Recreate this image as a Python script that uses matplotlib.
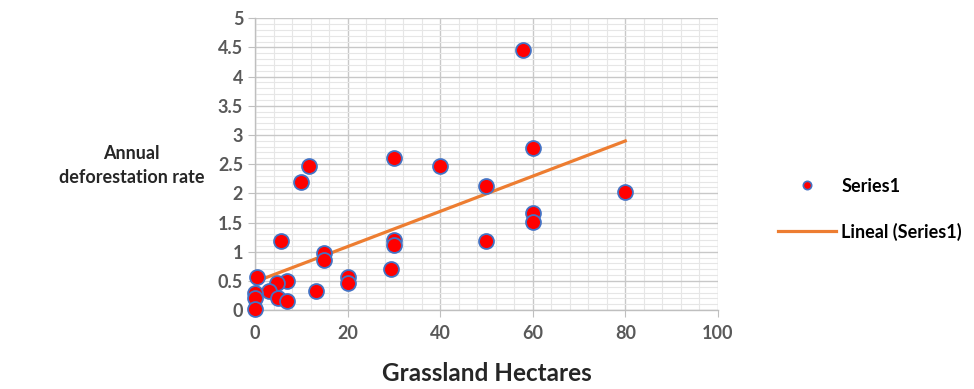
import numpy as np
import matplotlib.pyplot as plt
from matplotlib.ticker import MultipleLocator
from matplotlib.lines import Line2D

# grassland hectares vs annual deforestation rate
hectares = [58, 60, 30, 11.7, 40, 10, 50, 80, 60, 60,
            5.6, 50, 30, 30, 15, 15, 29.4, 20, 20, 0.4,
            7, 4.7, 3, 4.9, 7, 13.2, 0, 0, 0]
rate = [4.45, 2.78, 2.61, 2.47, 2.47, 2.19, 2.13, 2.02, 1.66, 1.51,
        1.19, 1.19, 1.2, 1.11, 0.98, 0.86, 0.70, 0.57, 0.46, 0.57,
        0.5, 0.46, 0.32, 0.21, 0.15, 0.32, 0.3, 0.2, 0.01]

x = np.array(hectares)
y = np.array(rate)

plt.rcParams['font.family'] = ['Lato', 'DejaVu Sans']

fig = plt.figure(figsize=(9.74, 3.89), dpi=100)
ax = fig.add_axes([0.2618, 0.203, 0.4752, 0.750])

# linear trend over the data range
m, b = np.polyfit(x, y, 1)
xt = np.array([x.min(), x.max()])
ax.plot(xt, m * xt + b, color='#ED7D31', linewidth=2.3, zorder=2,
        clip_on=False)

ax.scatter(x, y, s=115, color='#FF0000', edgecolors='#4472C4',
           linewidths=1.3, zorder=3, clip_on=False)

ax.set_xlim(0, 100)
ax.set_ylim(0, 5)
ax.xaxis.set_major_locator(MultipleLocator(20))
ax.xaxis.set_minor_locator(MultipleLocator(4))
ax.yaxis.set_major_locator(MultipleLocator(0.5))
ax.yaxis.set_minor_locator(MultipleLocator(0.1))
ax.yaxis.set_major_formatter(lambda v, p: f'{v:g}')

ax.grid(which='major', color='#C8C8C8', linewidth=1.0)
ax.grid(which='minor', color='#E6E6E6', linewidth=0.8)
ax.set_axisbelow(True)

for side in ['top', 'right']:
    ax.spines[side].set_visible(False)
for side in ['left', 'bottom']:
    ax.spines[side].set_color('#BFBFBF')
    ax.spines[side].set_linewidth(1.0)

ax.tick_params(which='major', length=5, color='#BFBFBF', labelsize=13,
               labelcolor='#595959')
ax.tick_params(axis='x', pad=6)
ax.tick_params(which='minor', length=0)
for lab in ax.get_xticklabels() + ax.get_yticklabels():
    lab.set_fontweight('bold')

ax.set_xlabel('Grassland Hectares', fontsize=17.5, fontweight='bold',
              color='#262626', labelpad=14)
fig.text(0.135, 0.575, 'Annual\ndeforestation rate', ha='center', va='center',
         fontsize=13, fontweight='bold', color='#262626', linespacing=1.5)

handles = [
    Line2D([], [], linestyle='none', marker='o', markersize=6,
           markerfacecolor='#FF0000', markeredgecolor='#4472C4',
           markeredgewidth=1.2),
    Line2D([], [], color='#ED7D31', linewidth=2.3),
]
fig.legend(handles, ['Series1', 'Lineal (Series1)'], loc='center left',
           bbox_to_anchor=(0.782, 0.462), frameon=False, handlelength=3.2,
           handletextpad=0.3, labelspacing=1.55,
           prop={'weight': 'bold', 'size': 13})

fig.savefig('out.png', dpi=100)
